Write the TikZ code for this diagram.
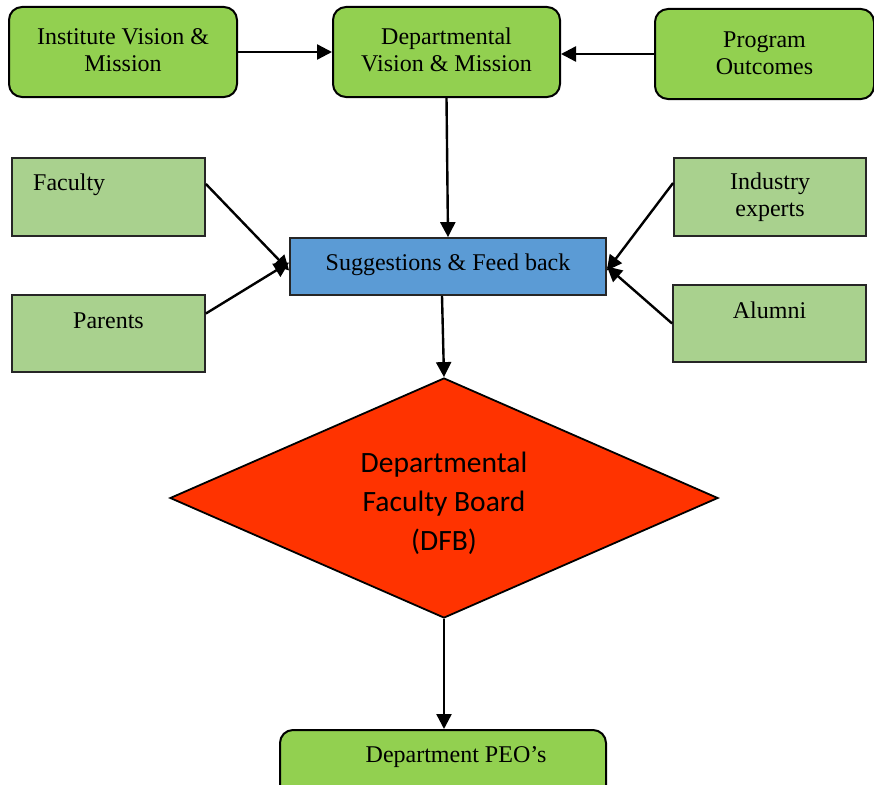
\documentclass[tikz,border=0pt]{standalone}
\usepackage{fontspec}
\setmainfont{Liberation Serif}
\newfontfamily\calibri{Carlito}
\usetikzlibrary{arrows.meta,shapes.geometric}
\definecolor{topgreen}{HTML}{92D050}
\definecolor{lightgreen}{HTML}{A9D18E}
\definecolor{sugblue}{HTML}{5B9BD5}
\definecolor{dfbred}{HTML}{FF3300}
\tikzset{
  topbox/.style={draw=black, line width=2pt, fill=topgreen, rounded corners=13pt, inner sep=0pt, align=center},
  sidebox/.style={draw=black!85, line width=1.8pt, fill=lightgreen, inner sep=0pt},
  sugbox/.style={draw=black!85, line width=1.8pt, fill=sugblue, inner sep=0pt},
  dfb/.style={draw=black, line width=1.8pt, fill=dfbred, diamond, inner sep=0pt},
  txt/.style={inner sep=0pt, align=center, font=\fontsize{24}{27}\selectfont},
  conn/.style={line width=2.4pt, -{Triangle[length=15pt,width=15pt]}}
}
\begin{document}
\begin{tikzpicture}[x=1pt,y=-1pt]
\useasboundingbox (0,0) rectangle (874,784);
% top row
\node[topbox, minimum width=228pt, minimum height=90pt] (ivm) at (123,52) {};
\node[txt] (ivmt) at (123,50) {Institute Vision \&\\Mission};
\node[topbox, minimum width=227pt, minimum height=90pt] (dvm) at (446.5,52) {};
\node[txt] (dvmt) at (446.5,50) {Departmental\\Vision \& Mission};
\node[topbox, minimum width=219pt, minimum height=90pt] (po) at (764.5,54) {};
\node[txt] (pot) at (764.5,53) {Program\\Outcomes};
% side boxes
\node[sidebox, minimum width=193pt, minimum height=78pt] (fac) at (108.5,197) {};
\node[txt, anchor=west] (fact) at (33,185) {Faculty};
\node[sidebox, minimum width=193pt, minimum height=77pt] (par) at (108.5,333.5) {};
\node[txt] (part) at (108.5,321) {Parents};
\node[sidebox, minimum width=192pt, minimum height=78pt] (ind) at (770,197) {};
\node[txt] (indt) at (770,197) {Industry\\experts};
\node[sidebox, minimum width=193pt, minimum height=77pt] (alu) at (769.5,323.5) {};
\node[txt] (alut) at (769.5,310) {Alumni};
% suggestions
\node[sugbox, minimum width=316pt, minimum height=57pt] (sug) at (448,266.5) {};
\node[txt] (sugt) at (448,265) {Suggestions \& Feed back};
% diamond
\node[dfb, minimum width=548pt, minimum height=240pt] (dfbn) at (444,498) {};
\node[inner sep=0pt, align=center, font=\calibri\fontsize{29.5}{39}\selectfont] (dfbt) at (444,503) {Departmental\\Faculty Board\\(DFB)};
% PEO
\node[topbox, minimum width=326pt, minimum height=70pt] (peo) at (443,765) {};
\node[txt] (peot) at (456,757) {Department PEO’s};
% connectors
\draw[conn] (ivm.east) -- (dvm.west);
\draw[conn] (po.west) -- ([yshift=-2pt]dvm.east);
\draw[conn] (dvm.south) -- ([xshift=0pt]sug.north);
\draw[conn] ([yshift=13pt]fac.east) -- ([yshift=-4pt]sug.west);
\draw[conn] ([yshift=20pt]par.east) -- ([yshift=4pt]sug.west);
\draw[conn] ([yshift=14pt]ind.west) -- ([yshift=-4pt]sug.east);
\draw[conn] ([yshift=0pt]alu.west) -- ([yshift=0pt]sug.east);
\draw[conn] ([xshift=-6pt]sug.south) -- (dfbn.north);
\draw[conn] (dfbn.south) -- (dfbn.south |- peo.north);
\end{tikzpicture}
\end{document}
